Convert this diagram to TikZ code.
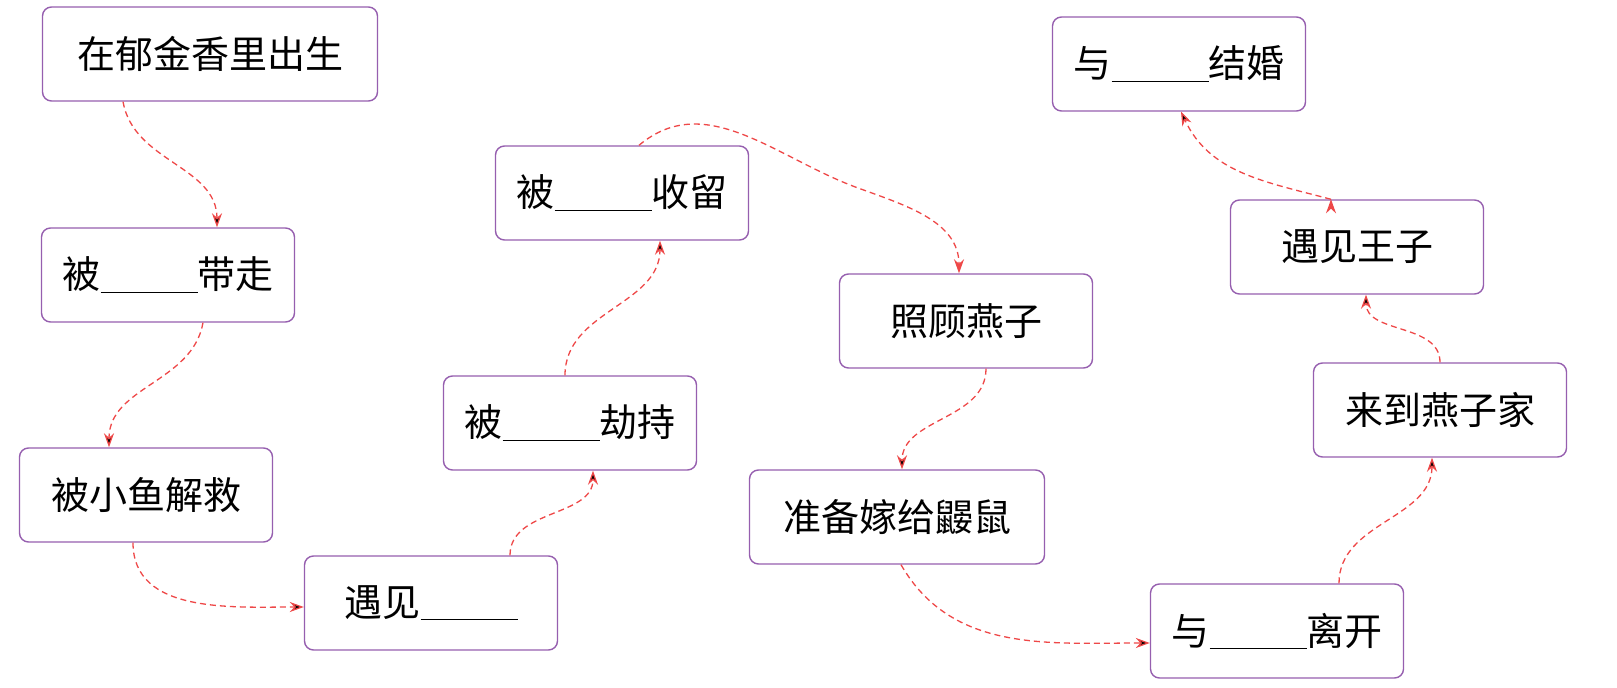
\documentclass[tikz,border=0pt]{standalone}
\usepackage{fontspec}
\setmainfont{Noto Sans CJK SC}
\usepackage{xcolor}
\usetikzlibrary{arrows.meta}

\definecolor{boxline}{RGB}{150,95,175}
\definecolor{arrowred}{RGB}{238,72,72}
\newcommand{\blank}{\rule[-4pt]{97pt}{1.2pt}}

\tikzset{
  event/.style={draw=boxline, line width=1.4pt, rounded corners=9pt, fill=white,
    minimum width=253pt, minimum height=94pt, inner xsep=4pt,
    font=\fontsize{38}{40}\selectfont},
  link/.style={->, >={Stealth[length=14pt,width=10pt]}, draw=arrowred,
    line width=1.3pt, dash pattern=on 6pt off 4pt}
}

\begin{document}
\begin{tikzpicture}[x=1pt,y=1pt]
\useasboundingbox (0,0) rectangle (1617,688);
  \node[event, minimum width=335pt] (B1) at (210,634)  {在郁金香里出生};
  \node[event]         (B2) at (168,413)  {被\blank 带走};
  \node[event]         (B3) at (146,193)  {被小鱼解救};
  \node[event]         (B4) at (431,85)   {遇见\blank};
  \node[event]         (B5) at (570,265)  {被\blank 劫持};
  \node[event]         (B6) at (622,495)  {被\blank 收留};
  \node[event]         (B7) at (966,367)  {照顾燕子};
  \node[event, minimum width=295pt] (B8) at (897,171)  {准备嫁给鼹鼠};
  \node[event]         (B9) at (1277,57)  {与\blank 离开};
  \node[event]         (B10) at (1440,278) {来到燕子家};
  \node[event]         (B11) at (1357,441) {遇见王子};
  \node[event]         (B12) at (1179,624) {与\blank 结婚};
  \coordinate          (K6) at (858,500);

  \path[link]
        ([xshift=-87pt]B1.south) edge[out=-80,in=90]  ([xshift=49pt]B2.north)
        ([xshift=35pt]B2.south)  edge[out=-100,in=90] ([xshift=-37pt]B3.north)
        ([xshift=-13pt]B3.south) edge[out=-90,in=180] ([yshift=-4pt]B4.west)
        ([xshift=79pt]B4.north)  edge[out=90,in=-90]  ([xshift=23pt]B5.south)
        ([xshift=-5pt]B5.north)  edge[out=90,in=-90]  ([xshift=38pt]B6.south)
        ([xshift=20pt]B7.south)  edge[out=-90,in=90]  ([xshift=5pt]B8.north)
        ([xshift=4pt]B8.south)   edge[out=-60,in=180] ([yshift=-12pt]B9.west)
        ([xshift=62pt]B9.north)  edge[out=90,in=-90]  ([xshift=-8pt]B10.south)
        (B10.north)              edge[out=90,in=-90]  ([xshift=9pt]B11.south)
        ([xshift=-26pt]B11.north) edge[out=165,in=-65] ([xshift=2pt]B12.south);

  \draw[link] ([xshift=17pt]B6.north) to[out=40,in=160] (K6)
        to[out=-20,in=90] ([xshift=-7pt]B7.north);
\end{tikzpicture}
\end{document}
